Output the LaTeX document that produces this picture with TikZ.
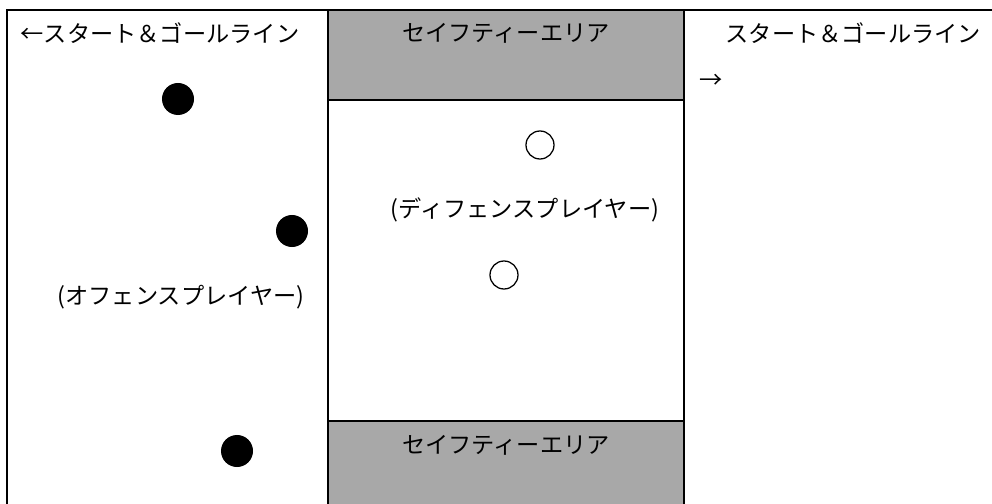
\documentclass[tikz,border=0pt]{standalone}
\usepackage{fontspec}
\setmainfont{Noto Sans CJK JP}
\definecolor{safegray}{RGB}{168,168,168}
\begin{document}
\begin{tikzpicture}[x=0.025cm, y=-0.025cm, line width=1.1pt,
  offense/.style={circle, fill=black, inner sep=0pt, minimum size=0.8cm},
  defense/.style={circle, draw, line width=0.9pt, inner sep=0pt, minimum size=0.7cm},
  label/.style={inner sep=0pt, font=\fontsize{16.5pt}{24pt}\selectfont}]
\useasboundingbox (0, 0) rectangle (992, 504);
% safety areas
\fill[safegray] (328, 10) rectangle (684, 100);
\fill[safegray] (328, 421) rectangle (684, 504);
\draw (328, 100) -- (684, 100);
\draw (328, 421) -- (684, 421);
% field lines
\draw (992, 10) -- (7, 10) -- (7, 504);
\draw (328, 10) -- (328, 504);
\draw (684, 10) -- (684, 504);
\node[label, anchor=west] (startl) at (20, 33) {←スタート＆ゴールライン};
\node[label, anchor=west] (startr) at (725, 33) {スタート＆ゴールライン};
\node[label, anchor=west] (arrowr) at (699, 81) {→};
\node[label] (safetop) at (506, 33) {セイフティーエリア};
\node[label] (safebot) at (506, 445) {セイフティーエリア};
% players
\node[offense] (o1) at (178, 99) {};
\node[offense] (o2) at (292, 231) {};
\node[offense] (o3) at (237, 451) {};
\node[label] (olabel) at (181, 297) {(オフェンスプレイヤー)};
\node[defense] (d1) at (540, 145) {};
\node[defense] (d2) at (504, 275) {};
\node[label] (dlabel) at (525, 210) {(ディフェンスプレイヤー)};
\end{tikzpicture}
\end{document}
